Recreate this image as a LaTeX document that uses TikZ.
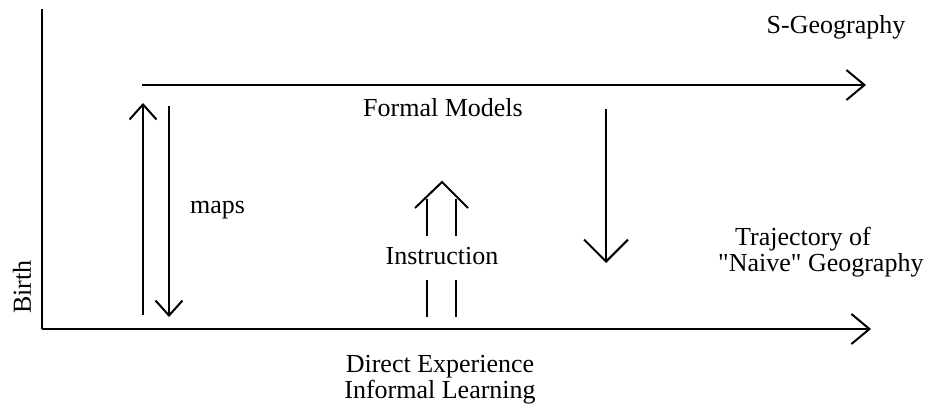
\documentclass[tikz,border=0pt]{standalone}
\usepackage{fontspec}
\setmainfont{Liberation Serif}
\usetikzlibrary{arrows.meta}
\begin{document}
\begin{tikzpicture}[x=1pt,y=-1pt,
  lbl/.style={font=\fontsize{26}{30}\selectfont, inner sep=0pt},
  axis/.style={line width=2.2pt},
  conn/.style={line width=2pt},
  bigtip/.style={-{Straight Barb[length=18pt,width=30pt,line width=2pt]}},
  smalltip/.style={-{Straight Barb[length=15pt,width=27pt,line width=2pt]}},
  midtip/.style={-{Straight Barb[length=22pt,width=44pt,line width=2pt]}}]
\useasboundingbox (0,0) rectangle (944,409);
% coordinates
\coordinate (vtop) at (42,9);
\coordinate (origin) at (42,329);
\coordinate (bend) at (871,329);
\coordinate (tstart) at (142,85);
\coordinate (tend) at (866,85);
\coordinate (upS) at (143,315);
\coordinate (upE) at (143,103);
\coordinate (dnS) at (169,106);
\coordinate (dnE) at (169,317);
\coordinate (i1a) at (427,199);
\coordinate (i1b) at (427,236);
\coordinate (i2a) at (456,199);
\coordinate (i2b) at (456,236);
\coordinate (i1c) at (427,280);
\coordinate (i1d) at (427,317);
\coordinate (i2c) at (456,280);
\coordinate (i2d) at (456,317);
\coordinate (chL) at (415,208);
\coordinate (chA) at (442,182);
\coordinate (chR) at (468,208);
\coordinate (fdS) at (606,109);
\coordinate (fdE) at (606,263);
% axes
\draw[axis] (vtop) -- (origin);
\draw[axis,bigtip] (origin) -- (bend);
\draw[axis,bigtip] (tstart) -- (tend);
% maps arrows
\draw[conn,smalltip] (upS) -- (upE);
\draw[conn,smalltip] (dnS) -- (dnE);
% instruction double arrow
\draw[conn] (i1a) -- (i1b);
\draw[conn] (i2a) -- (i2b);
\draw[conn] (i1c) -- (i1d);
\draw[conn] (i2c) -- (i2d);
\draw[conn,line join=miter] (chL) -- (chA) -- (chR);
% formal models down arrow
\draw[conn,midtip] (fdS) -- (fdE);
% labels
\node[lbl] (sgeo) at (836,27) {S-Geography};
\node[lbl] (formal) at (443,108) {Formal Models};
\node[lbl,anchor=west] (maps) at (190,210) {maps};
\node[lbl] (instr) at (442,256) {Instruction};
\node[lbl,anchor=west] (traj1) at (735,239) {Trajectory of};
\node[lbl,anchor=west] (traj2) at (718,265) {\textquotedbl Naive\textquotedbl{} Geography};
\node[lbl,rotate=90] (birth) at (22,287) {Birth};
\node[lbl] (direct) at (440,367) {Direct Experience};
\node[lbl] (informal) at (440,392) {Informal Learning};
\end{tikzpicture}
\end{document}
